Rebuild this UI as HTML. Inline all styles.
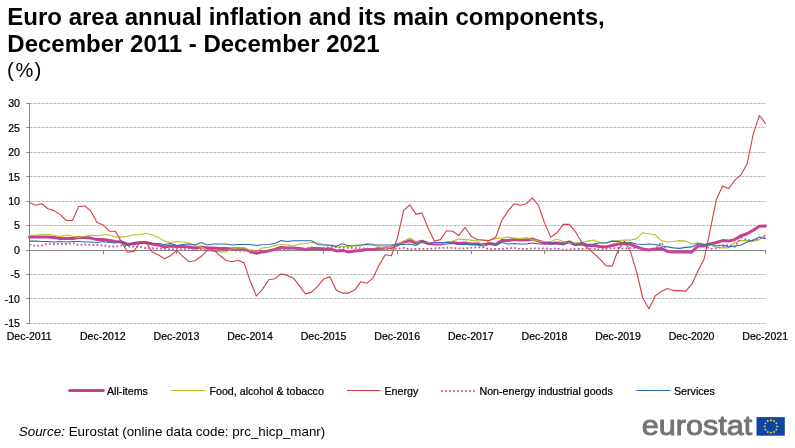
<!DOCTYPE html>
<html><head><meta charset="utf-8"><title>Euro area annual inflation</title>
<style>
html,body{margin:0;padding:0;background:#fff;}
body{width:795px;height:448px;overflow:hidden;position:relative;font-family:"Liberation Sans",sans-serif;}
svg{position:absolute;left:0;top:0;display:block;will-change:transform}
text{font-family:"Liberation Sans",sans-serif;}
.t{font-size:10.67px;fill:#000;stroke:#000;stroke-width:0.22px}
</style></head><body>
<svg width="795" height="448" viewBox="0 0 795 448">
<rect width="795" height="448" fill="#fff"/>
<text x="7.3" y="25" font-size="24" font-weight="bold" fill="#000">Euro area annual inflation and its main components,</text>
<text x="7.3" y="52" font-size="24" font-weight="bold" fill="#000">December 2011 - December 2021</text>
<text y="77" fill="#000"><tspan x="7.1" font-size="20.5">(</tspan><tspan x="15.5" font-size="20">%</tspan><tspan x="34.6" font-size="20.5">)</tspan></text>
<line x1="29.5" y1="103.5" x2="766.0" y2="103.5" stroke="#bababa" stroke-width="1" stroke-dasharray="3 1"/>
<line x1="26.3" y1="103.5" x2="29.5" y2="103.5" stroke="#868686" stroke-width="1"/>
<text class="t" x="20" y="107.2" text-anchor="end">30</text>
<line x1="29.5" y1="127.5" x2="766.0" y2="127.5" stroke="#bababa" stroke-width="1" stroke-dasharray="3 1"/>
<line x1="26.3" y1="127.5" x2="29.5" y2="127.5" stroke="#868686" stroke-width="1"/>
<text class="t" x="20" y="131.6" text-anchor="end">25</text>
<line x1="29.5" y1="152.5" x2="766.0" y2="152.5" stroke="#bababa" stroke-width="1" stroke-dasharray="3 1"/>
<line x1="26.3" y1="152.5" x2="29.5" y2="152.5" stroke="#868686" stroke-width="1"/>
<text class="t" x="20" y="156.1" text-anchor="end">20</text>
<line x1="29.5" y1="176.5" x2="766.0" y2="176.5" stroke="#bababa" stroke-width="1" stroke-dasharray="3 1"/>
<line x1="26.3" y1="176.5" x2="29.5" y2="176.5" stroke="#868686" stroke-width="1"/>
<text class="t" x="20" y="180.5" text-anchor="end">15</text>
<line x1="29.5" y1="201.5" x2="766.0" y2="201.5" stroke="#bababa" stroke-width="1" stroke-dasharray="3 1"/>
<line x1="26.3" y1="201.5" x2="29.5" y2="201.5" stroke="#868686" stroke-width="1"/>
<text class="t" x="20" y="205.0" text-anchor="end">10</text>
<line x1="29.5" y1="225.5" x2="766.0" y2="225.5" stroke="#bababa" stroke-width="1" stroke-dasharray="3 1"/>
<line x1="26.3" y1="225.5" x2="29.5" y2="225.5" stroke="#868686" stroke-width="1"/>
<text class="t" x="20" y="229.4" text-anchor="end">5</text>
<line x1="26.3" y1="250.5" x2="29.5" y2="250.5" stroke="#868686" stroke-width="1"/>
<text class="t" x="20" y="253.8" text-anchor="end">0</text>
<line x1="29.5" y1="274.5" x2="766.0" y2="274.5" stroke="#bababa" stroke-width="1" stroke-dasharray="3 1"/>
<line x1="26.3" y1="274.5" x2="29.5" y2="274.5" stroke="#868686" stroke-width="1"/>
<text class="t" x="20" y="278.3" text-anchor="end">-5</text>
<line x1="29.5" y1="298.5" x2="766.0" y2="298.5" stroke="#bababa" stroke-width="1" stroke-dasharray="3 1"/>
<line x1="26.3" y1="298.5" x2="29.5" y2="298.5" stroke="#868686" stroke-width="1"/>
<text class="t" x="20" y="302.7" text-anchor="end">-10</text>
<line x1="29.5" y1="323.5" x2="766.0" y2="323.5" stroke="#bababa" stroke-width="1" stroke-dasharray="3 1"/>
<line x1="26.3" y1="323.5" x2="29.5" y2="323.5" stroke="#868686" stroke-width="1"/>
<text class="t" x="20" y="327.2" text-anchor="end">-15</text>
<line x1="29.5" y1="103.0" x2="29.5" y2="324.0" stroke="#868686" stroke-width="1"/>
<line x1="29.5" y1="250.5" x2="766.0" y2="250.5" stroke="#868686" stroke-width="1"/>
<line x1="29.5" y1="250.5" x2="29.5" y2="254.0" stroke="#868686" stroke-width="1"/>
<text class="t" x="29.2" y="340.3" style="font-size:10.55px" text-anchor="middle">Dec-2011</text>
<line x1="103.5" y1="250.5" x2="103.5" y2="254.0" stroke="#868686" stroke-width="1"/>
<text class="t" x="102.8" y="340.3" style="font-size:10.55px" text-anchor="middle">Dec-2012</text>
<line x1="176.5" y1="250.5" x2="176.5" y2="254.0" stroke="#868686" stroke-width="1"/>
<text class="t" x="176.4" y="340.3" style="font-size:10.55px" text-anchor="middle">Dec-2013</text>
<line x1="250.5" y1="250.5" x2="250.5" y2="254.0" stroke="#868686" stroke-width="1"/>
<text class="t" x="250.0" y="340.3" style="font-size:10.55px" text-anchor="middle">Dec-2014</text>
<line x1="323.5" y1="250.5" x2="323.5" y2="254.0" stroke="#868686" stroke-width="1"/>
<text class="t" x="323.6" y="340.3" style="font-size:10.55px" text-anchor="middle">Dec-2015</text>
<line x1="397.5" y1="250.5" x2="397.5" y2="254.0" stroke="#868686" stroke-width="1"/>
<text class="t" x="397.2" y="340.3" style="font-size:10.55px" text-anchor="middle">Dec-2016</text>
<line x1="471.5" y1="250.5" x2="471.5" y2="254.0" stroke="#868686" stroke-width="1"/>
<text class="t" x="470.8" y="340.3" style="font-size:10.55px" text-anchor="middle">Dec-2017</text>
<line x1="544.5" y1="250.5" x2="544.5" y2="254.0" stroke="#868686" stroke-width="1"/>
<text class="t" x="544.4" y="340.3" style="font-size:10.55px" text-anchor="middle">Dec-2018</text>
<line x1="618.5" y1="250.5" x2="618.5" y2="254.0" stroke="#868686" stroke-width="1"/>
<text class="t" x="618.0" y="340.3" style="font-size:10.55px" text-anchor="middle">Dec-2019</text>
<line x1="691.5" y1="250.5" x2="691.5" y2="254.0" stroke="#868686" stroke-width="1"/>
<text class="t" x="691.6" y="340.3" style="font-size:10.55px" text-anchor="middle">Dec-2020</text>
<line x1="765.5" y1="250.5" x2="765.5" y2="254.0" stroke="#868686" stroke-width="1"/>
<text class="t" x="765.2" y="340.3" style="font-size:10.55px" text-anchor="middle">Dec-2021</text>
<g fill="none" stroke-linejoin="round" stroke-linecap="round">
<path d="M29.5 237.1 L35.6 237.1 L41.8 237.1 L47.9 237.1 L54.0 237.6 L60.2 238.6 L66.3 238.6 L72.4 238.6 L78.6 237.6 L84.7 237.6 L90.8 238.1 L97.0 239.6 L103.1 239.6 L109.2 240.6 L115.4 241.5 L121.5 242.0 L127.6 244.5 L133.8 243.5 L139.9 242.5 L146.0 242.5 L152.2 244.0 L158.3 245.0 L164.4 246.9 L170.6 246.0 L176.7 246.5 L182.8 246.5 L189.0 246.9 L195.1 247.9 L201.2 246.9 L207.4 247.9 L213.5 247.9 L219.6 248.4 L225.8 248.4 L231.9 248.9 L238.0 248.4 L244.2 248.9 L250.3 251.4 L256.4 253.3 L262.6 251.9 L268.7 250.9 L274.8 249.4 L281.0 247.4 L287.1 247.9 L293.2 247.9 L299.4 248.4 L305.5 249.4 L311.6 248.4 L317.8 248.4 L323.9 248.9 L330.0 248.9 L336.2 250.9 L342.3 250.4 L348.4 251.9 L354.6 250.9 L360.7 250.4 L366.8 249.4 L373.0 249.4 L379.1 248.4 L385.2 247.9 L391.4 247.4 L397.5 245.0 L403.6 242.0 L409.8 240.6 L415.9 243.0 L422.0 241.1 L428.2 243.5 L434.3 244.0 L440.4 244.0 L446.6 243.0 L452.7 242.5 L458.8 243.5 L465.0 243.0 L471.1 244.0 L477.2 244.0 L483.4 245.0 L489.5 243.5 L495.6 244.5 L501.8 240.6 L507.9 240.6 L514.0 239.6 L520.2 240.1 L526.3 240.1 L532.4 239.1 L538.6 241.1 L544.7 243.0 L550.8 243.5 L557.0 243.0 L563.1 243.5 L569.2 242.0 L575.4 244.5 L581.5 244.0 L587.6 245.5 L593.8 245.5 L599.9 246.5 L606.0 246.9 L612.2 245.5 L618.3 244.0 L624.4 243.5 L630.6 244.5 L636.7 246.9 L642.8 248.9 L649.0 249.9 L655.1 248.9 L661.2 248.4 L667.4 251.4 L673.5 251.9 L679.6 251.9 L685.8 251.9 L691.9 251.9 L698.0 246.0 L704.2 246.0 L710.3 244.0 L716.4 242.5 L722.6 240.6 L728.7 241.1 L734.8 239.6 L741.0 235.7 L747.1 233.7 L753.2 230.3 L759.4 226.3 L765.5 225.9" stroke="#C7408F" stroke-width="3"/>
<path d="M29.5 235.2 L35.6 235.2 L41.8 234.2 L47.9 234.2 L54.0 235.2 L60.2 236.6 L66.3 234.7 L72.4 236.2 L78.6 237.1 L84.7 236.2 L90.8 235.2 L97.0 235.7 L103.1 234.7 L109.2 234.7 L115.4 237.1 L121.5 237.1 L127.6 236.2 L133.8 234.7 L139.9 234.7 L146.0 233.2 L152.2 234.7 L158.3 237.6 L164.4 241.1 L170.6 242.5 L176.7 241.5 L182.8 242.0 L189.0 243.0 L195.1 245.5 L201.2 246.9 L207.4 249.9 L213.5 251.4 L219.6 251.9 L225.8 251.9 L231.9 248.9 L238.0 247.9 L244.2 247.9 L250.3 250.4 L256.4 250.9 L262.6 247.9 L268.7 247.4 L274.8 245.5 L281.0 244.5 L287.1 245.0 L293.2 246.0 L299.4 244.0 L305.5 243.5 L311.6 242.5 L317.8 243.0 L323.9 244.5 L330.0 245.5 L336.2 247.4 L342.3 246.5 L348.4 246.5 L354.6 246.0 L360.7 246.0 L366.8 243.5 L373.0 244.0 L379.1 246.9 L385.2 248.4 L391.4 246.9 L397.5 244.5 L403.6 241.5 L409.8 238.1 L415.9 241.5 L422.0 243.0 L428.2 243.0 L434.3 243.5 L440.4 243.5 L446.6 243.5 L452.7 241.1 L458.8 239.1 L465.0 239.6 L471.1 240.1 L477.2 241.1 L483.4 245.5 L489.5 240.1 L495.6 238.6 L501.8 238.1 L507.9 237.1 L514.0 238.1 L520.2 238.6 L526.3 237.6 L532.4 239.6 L538.6 241.1 L544.7 241.5 L550.8 241.5 L557.0 239.1 L563.1 241.5 L569.2 243.0 L575.4 243.0 L581.5 242.5 L587.6 241.1 L593.8 240.1 L599.9 242.5 L606.0 243.0 L612.2 241.1 L618.3 240.6 L624.4 240.1 L630.6 240.1 L636.7 238.6 L642.8 232.7 L649.0 233.7 L655.1 234.7 L661.2 240.6 L667.4 242.0 L673.5 241.5 L679.6 240.6 L685.8 241.1 L691.9 244.0 L698.0 243.0 L704.2 244.0 L710.3 245.0 L716.4 247.4 L722.6 247.9 L728.7 247.9 L734.8 242.5 L741.0 240.6 L747.1 240.6 L753.2 241.1 L759.4 239.6 L765.5 234.7" stroke="#B9C31E" stroke-width="1.1"/>
<path d="M29.5 202.8 L35.6 205.2 L41.8 203.8 L47.9 208.7 L54.0 210.6 L60.2 214.6 L66.3 220.5 L72.4 220.5 L78.6 206.7 L84.7 205.7 L90.8 211.1 L97.0 222.4 L103.1 224.9 L109.2 231.2 L115.4 231.2 L121.5 242.0 L127.6 252.3 L133.8 251.4 L139.9 242.5 L146.0 242.5 L152.2 251.9 L158.3 254.8 L164.4 258.7 L170.6 255.8 L176.7 250.4 L182.8 256.3 L189.0 261.7 L195.1 260.7 L201.2 256.3 L207.4 250.4 L213.5 249.9 L219.6 255.3 L225.8 260.2 L231.9 261.7 L238.0 260.2 L244.2 263.1 L250.3 281.3 L256.4 296.0 L262.6 289.1 L268.7 279.8 L274.8 278.8 L281.0 273.9 L287.1 275.4 L293.2 277.9 L299.4 285.7 L305.5 294.0 L311.6 292.1 L317.8 286.2 L323.9 278.8 L330.0 276.9 L336.2 290.1 L342.3 293.1 L348.4 293.1 L354.6 290.1 L360.7 281.8 L366.8 283.3 L373.0 277.9 L379.1 265.1 L385.2 254.8 L391.4 255.8 L397.5 237.6 L403.6 210.6 L409.8 204.8 L415.9 214.1 L422.0 213.1 L428.2 228.3 L434.3 241.1 L440.4 239.6 L446.6 230.8 L452.7 231.2 L458.8 235.7 L465.0 227.3 L471.1 236.2 L477.2 239.6 L483.4 240.1 L489.5 240.6 L495.6 237.6 L501.8 220.5 L507.9 211.1 L514.0 203.8 L520.2 205.2 L526.3 203.8 L532.4 197.9 L538.6 205.7 L544.7 223.4 L550.8 237.1 L557.0 232.7 L563.1 224.4 L569.2 224.4 L575.4 231.7 L581.5 242.0 L587.6 247.9 L593.8 253.3 L599.9 259.2 L606.0 265.6 L612.2 266.1 L618.3 249.4 L624.4 241.1 L630.6 251.9 L636.7 272.5 L642.8 298.0 L649.0 308.8 L655.1 296.0 L661.2 291.6 L667.4 288.6 L673.5 290.6 L679.6 290.6 L685.8 291.1 L691.9 284.2 L698.0 271.0 L704.2 258.7 L710.3 229.3 L716.4 199.4 L722.6 186.1 L728.7 188.6 L734.8 180.2 L741.0 174.8 L747.1 164.0 L753.2 134.1 L759.4 115.5 L765.5 123.3" stroke="#D73C41" stroke-width="1.1"/>
<path d="M29.5 244.5 L35.6 246.0 L41.8 245.5 L47.9 243.5 L54.0 244.0 L60.2 244.0 L66.3 244.0 L72.4 243.0 L78.6 245.0 L84.7 244.5 L90.8 245.0 L97.0 245.0 L103.1 245.5 L109.2 246.5 L115.4 246.5 L121.5 245.5 L127.6 246.5 L133.8 246.5 L139.9 246.9 L146.0 248.4 L152.2 248.4 L158.3 248.4 L164.4 248.9 L170.6 249.4 L176.7 248.9 L182.8 249.4 L189.0 248.4 L195.1 249.4 L201.2 249.9 L207.4 250.4 L213.5 250.9 L219.6 250.4 L225.8 248.9 L231.9 249.4 L238.0 250.9 L244.2 250.9 L250.3 250.4 L256.4 250.9 L262.6 250.9 L268.7 250.4 L274.8 249.9 L281.0 249.4 L287.1 248.9 L293.2 248.4 L299.4 248.4 L305.5 248.9 L311.6 247.4 L317.8 247.9 L323.9 247.9 L330.0 246.9 L336.2 246.9 L342.3 247.9 L348.4 247.9 L354.6 247.9 L360.7 248.4 L366.8 248.4 L373.0 248.9 L379.1 248.9 L385.2 248.9 L391.4 248.9 L397.5 248.9 L403.6 247.9 L409.8 249.4 L415.9 248.9 L422.0 248.9 L428.2 248.9 L434.3 248.4 L440.4 247.9 L446.6 247.9 L452.7 247.9 L458.8 248.4 L465.0 248.4 L471.1 247.9 L477.2 247.4 L483.4 247.4 L489.5 249.4 L495.6 248.9 L501.8 248.9 L507.9 248.4 L514.0 247.9 L520.2 248.9 L526.3 248.9 L532.4 248.4 L538.6 248.4 L544.7 248.4 L550.8 248.9 L557.0 248.4 L563.1 249.9 L569.2 249.4 L575.4 248.9 L581.5 248.9 L587.6 248.4 L593.8 248.9 L599.9 249.4 L606.0 248.9 L612.2 248.4 L618.3 247.9 L624.4 248.9 L630.6 247.9 L636.7 247.9 L642.8 248.9 L649.0 249.4 L655.1 249.4 L661.2 242.5 L667.4 250.9 L673.5 251.9 L679.6 250.9 L685.8 251.9 L691.9 252.8 L698.0 243.0 L704.2 245.5 L710.3 248.9 L716.4 248.4 L722.6 246.9 L728.7 244.5 L734.8 246.9 L741.0 237.6 L747.1 240.1 L753.2 240.6 L759.4 238.6 L765.5 236.2" stroke="#CE52A2" stroke-width="1.8" stroke-dasharray="1.8 2.2" stroke-linecap="butt"/>
<path d="M29.5 241.1 L35.6 241.1 L41.8 241.5 L47.9 241.5 L54.0 242.0 L60.2 241.5 L66.3 242.0 L72.4 241.5 L78.6 241.5 L84.7 242.0 L90.8 242.0 L97.0 242.5 L103.1 241.5 L109.2 242.5 L115.4 243.0 L121.5 241.5 L127.6 245.0 L133.8 243.0 L139.9 243.5 L146.0 243.5 L152.2 243.5 L158.3 243.5 L164.4 244.5 L170.6 243.5 L176.7 245.5 L182.8 244.5 L189.0 244.0 L195.1 245.0 L201.2 242.5 L207.4 245.0 L213.5 244.0 L219.6 244.0 L225.8 244.0 L231.9 245.0 L238.0 244.5 L244.2 244.5 L250.3 244.5 L256.4 245.5 L262.6 244.7 L268.7 244.5 L274.8 243.5 L281.0 240.6 L287.1 241.5 L293.2 240.8 L299.4 240.8 L305.5 240.8 L311.6 240.8 L317.8 244.5 L323.9 245.0 L330.0 245.0 L336.2 246.2 L342.3 243.8 L348.4 245.7 L354.6 245.5 L360.7 245.0 L366.8 244.5 L373.0 245.0 L379.1 245.0 L385.2 245.0 L391.4 245.0 L397.5 244.0 L403.6 244.5 L409.8 244.0 L415.9 245.5 L422.0 241.5 L428.2 244.0 L434.3 242.5 L440.4 242.5 L446.6 242.5 L452.7 243.0 L458.8 244.5 L465.0 244.5 L471.1 244.5 L477.2 244.5 L483.4 244.0 L489.5 243.0 L495.6 245.5 L501.8 242.5 L507.9 244.0 L514.0 243.5 L520.2 244.0 L526.3 244.0 L532.4 243.0 L538.6 244.0 L544.7 244.0 L550.8 242.5 L557.0 243.5 L563.1 245.0 L569.2 241.1 L575.4 245.5 L581.5 242.5 L587.6 244.5 L593.8 244.0 L599.9 243.0 L606.0 243.0 L612.2 241.1 L618.3 241.5 L624.4 243.0 L630.6 242.5 L636.7 244.0 L642.8 244.5 L649.0 244.0 L655.1 244.5 L661.2 246.0 L667.4 246.9 L673.5 247.9 L679.6 248.4 L685.8 247.4 L691.9 246.9 L698.0 243.5 L704.2 244.5 L710.3 244.0 L716.4 246.0 L722.6 245.0 L728.7 246.9 L734.8 246.0 L741.0 245.0 L747.1 242.0 L753.2 240.1 L759.4 237.1 L765.5 238.6" stroke="#286EB4" stroke-width="1.1"/>
</g>
<g fill="none" stroke-linecap="round">
<line x1="69.6" y1="390.5" x2="103.3" y2="390.5" stroke="#C7408F" stroke-width="3"/>
<line x1="171" y1="390.5" x2="205.5" y2="390.5" stroke="#B9C31E" stroke-width="1" stroke-linecap="butt"/>
<line x1="347" y1="390.5" x2="380.5" y2="390.5" stroke="#D73C41" stroke-width="1" stroke-linecap="butt"/>
<line x1="441" y1="391.0" x2="475" y2="391.0" stroke="#D972B3" stroke-width="2" stroke-dasharray="2 2" stroke-linecap="butt"/>
<line x1="636.5" y1="390.5" x2="670.5" y2="390.5" stroke="#286EB4" stroke-width="1" stroke-linecap="butt"/>
</g>
<text class="t" x="107.0" y="394.6">All-items</text>
<text class="t" x="209.5" y="394.6">Food, alcohol &amp; tobacco</text>
<text class="t" x="384.5" y="394.6">Energy</text>
<text class="t" x="479.5" y="394.6">Non-energy industrial goods</text>
<text class="t" x="674.0" y="394.6">Services</text>
<text x="18.8" y="435.5" font-size="13" fill="#000" textLength="306.5" lengthAdjust="spacingAndGlyphs"><tspan font-style="italic">Source:</tspan> Eurostat (online data code: prc_hicp_manr)</text>
<text x="641.8" y="435.3" font-size="28.4" fill="#737373" stroke="#737373" stroke-width="0.9" stroke-linejoin="round" textLength="110.5" lengthAdjust="spacingAndGlyphs">eurostat</text>
<rect x="756.5" y="417.1" width="28.3" height="18.6" fill="#1046a3"/>
<circle cx="770.90" cy="420.20" r="0.95" fill="#ffd617"/>
<circle cx="774.05" cy="421.04" r="0.95" fill="#ffd617"/>
<circle cx="776.36" cy="423.35" r="0.95" fill="#ffd617"/>
<circle cx="777.20" cy="426.50" r="0.95" fill="#ffd617"/>
<circle cx="776.36" cy="429.65" r="0.95" fill="#ffd617"/>
<circle cx="774.05" cy="431.96" r="0.95" fill="#ffd617"/>
<circle cx="770.90" cy="432.80" r="0.95" fill="#ffd617"/>
<circle cx="767.75" cy="431.96" r="0.95" fill="#ffd617"/>
<circle cx="765.44" cy="429.65" r="0.95" fill="#ffd617"/>
<circle cx="764.60" cy="426.50" r="0.95" fill="#ffd617"/>
<circle cx="765.44" cy="423.35" r="0.95" fill="#ffd617"/>
<circle cx="767.75" cy="421.04" r="0.95" fill="#ffd617"/>
</svg>
</body></html>
